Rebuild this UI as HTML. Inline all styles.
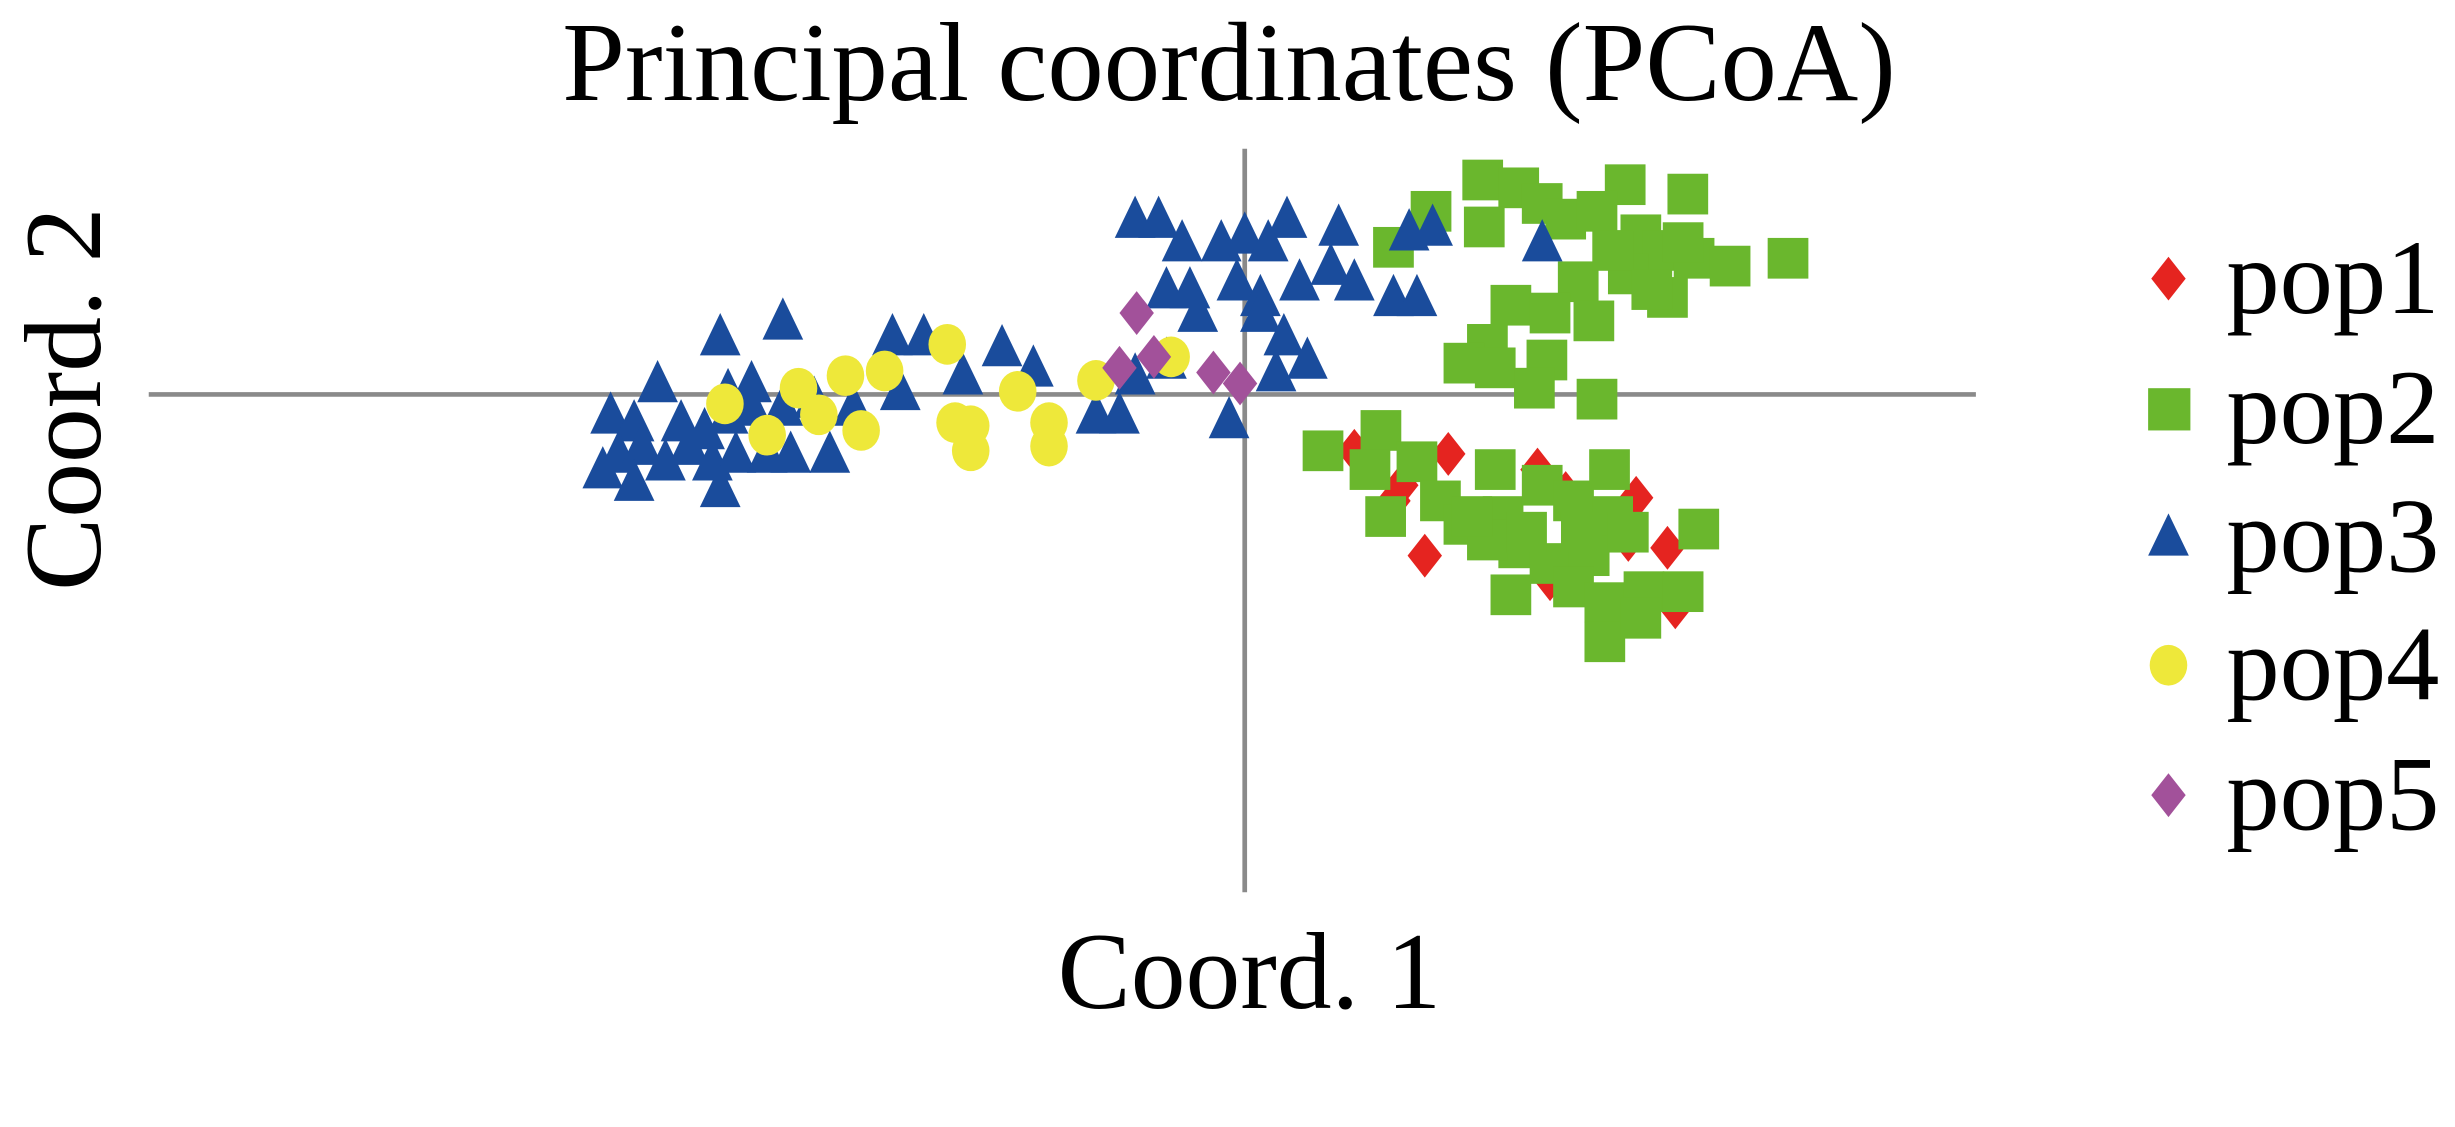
<!DOCTYPE html>
<html><head><meta charset="utf-8">
<style>html,body{margin:0;padding:0;background:#fff;}svg{display:block}</style>
</head><body>
<svg id="s" width="2455" height="1127" viewBox="0 0 1568 720" preserveAspectRatio="none" xmlns="http://www.w3.org/2000/svg" font-family="Liberation Serif, serif">
<rect width="1568" height="720" fill="#fff"/>
<text x="785" y="64" font-size="72" text-anchor="middle">Principal coordinates (PCoA)</text>
<line x1="795" y1="95" x2="795" y2="570" stroke="#8a8a8a" stroke-width="3"/>
<line x1="95" y1="252" x2="1262" y2="252" stroke="#8a8a8a" stroke-width="3"/>
<text transform="translate(64,255) rotate(-90)" font-size="70" text-anchor="middle">Coord. 2</text>
<text x="798" y="644" font-size="70" text-anchor="middle">Coord. 1</text>
<g id="pts"></g>
<g font-size="68">
<text x="1422" y="200">pop1</text>
<text x="1422" y="283">pop2</text>
<text x="1422" y="365">pop3</text>
<text x="1422" y="447">pop4</text>
<text x="1422" y="530">pop5</text>
</g>
</svg>
<script>
const g=document.getElementById('pts');const NS='http://www.w3.org/2000/svg';
function el(t,a){const e=document.createElementNS(NS,t);for(const k in a)e.setAttribute(k,a[k]);g.appendChild(e);}
function sq(x,y){el('rect',{x:x-13,y:y-13,width:26,height:26,fill:'#6ab72d'});}
function di(x,y,c){el('polygon',{points:`${x},${y-14} ${x+11},${y} ${x},${y+14} ${x-11},${y}`,fill:c});}
function tr(x,y){el('polygon',{points:`${x},${y-15} ${x+13},${y+12} ${x-13},${y+12}`,fill:'#1a4c9c'});}
function ci(x,y){el('ellipse',{cx:x,cy:y,rx:12,ry:13,fill:'#eee83a'});}
const red=[[865,288],[925,290],[982,300],[1045,318],[890,320],[910,355],[1065,350],[1070,388],[990,370],[1000,315],[895,310],[1040,345]];
red.forEach(p=>di(p[0],p[1],'#e52420'));
const gr=[[947,115],[970,120],[1038,118],[1078,124],[914,135],[948,145],[985,130],[1000,140],[1020,135],[1048,150],[1062,160],[1082,165],[1105,170],[1142,165],[890,158],[1040,175],[1065,190],[1008,180],[965,195],[990,200],[1018,205],[950,220],[935,232],[955,235],[988,230],[980,248],[1020,255],[1030,160],[1055,185],[1075,155],
[845,288],[882,275],[875,300],[905,295],[885,330],[955,300],[920,320],[935,335],[960,330],[985,310],[1005,320],[1028,300],[1030,330],[970,350],[990,360],[950,345],[1015,355],[1040,340],[1085,338],[965,380],[1005,375],[1025,385],[1050,378],[1075,378],[1025,410],[1048,395],[940,330],[975,340],[1010,340]];
gr.forEach(p=>sq(p[0],p[1]));
const bl=[[390,265],[405,270],[420,245],[435,270],[450,275],[465,265],[480,260],[395,290],[410,285],[425,295],[440,285],[455,295],[470,290],[490,290],[505,290],[530,290],[460,215],[500,205],[480,245],[465,250],[500,260],[520,255],[545,260],[570,215],[590,215],[575,250],[405,308],[460,312],[385,300],[615,240],[640,222],[660,235],[700,265],[715,265],[725,240],[745,230],[725,140],[740,140],[755,155],[780,155],[795,150],[810,155],[822,140],[855,145],[760,185],[790,180],[805,190],[830,180],[850,170],[865,180],[765,200],[805,200],[820,215],[835,230],[815,238],[785,268],[890,190],[905,190],[900,148],[915,145],[985,155],[745,185]];
bl.forEach(p=>tr(p[0],p[1]));
const ye=[[463,258],[490,278],[510,248],[523,265],[540,240],[550,275],[565,237],[605,220],[610,270],[620,288],[650,250],[670,270],[670,285],[700,243],[748,228],[620,272]];
ye.forEach(p=>ci(p[0],p[1]));
[[726,200],[715,235],[737,228],[775,238],[792,245]].forEach(p=>di(p[0],p[1],'#a2519a'));
di(1385,178,'#e52420');
el('rect',{x:1372,y:248,width:27,height:27,fill:'#6ab72d'});
tr(1385,343);ci(1385,425);di(1385,508,'#a2519a');
</script>
</body></html>
